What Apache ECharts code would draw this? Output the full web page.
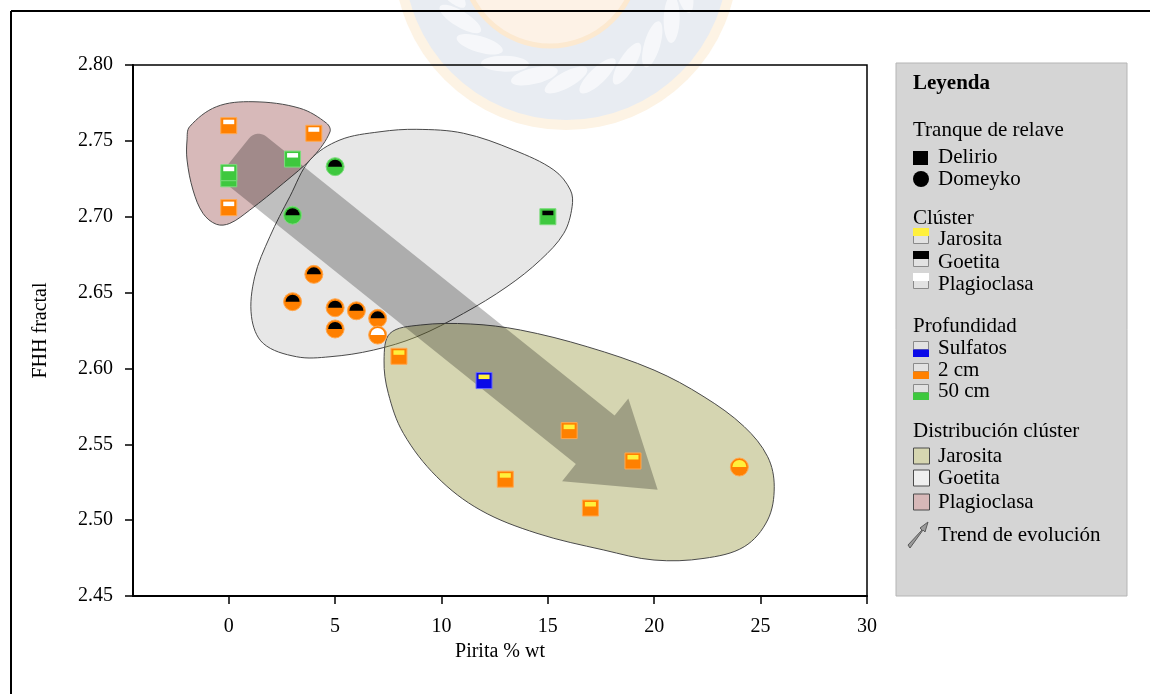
<!DOCTYPE html>
<html lang="es">
<head>
<meta charset="UTF-8">
<title>FHH fractal vs Pirita</title>
<style>html,body{margin:0;padding:0;background:#fff;}</style>
</head>
<body>
<div id="main" style="width:1150px;height:694px;"></div>
<script src="https://cdn.jsdelivr.net/npm/echarts@6/dist/echarts.min.js"></script>
<script>
// Tranque Delirio (cuadrados)
var delirioX = [0, 4, 0, 0, 3, 0, 15, 8, 12, 16, 19, 13, 17];
var delirioY = [2.760, 2.755, 2.725, 2.729, 2.738, 2.706, 2.700, 2.608, 2.592, 2.559, 2.539, 2.527, 2.508];
var delirioCluster = ['Plagioclasa', 'Plagioclasa', 'Plagioclasa', 'Plagioclasa', 'Plagioclasa', 'Plagioclasa',
    'Goetita', 'Jarosita', 'Jarosita', 'Jarosita', 'Jarosita', 'Jarosita', 'Jarosita'];
var delirioDepth = ['2 cm', '2 cm', '50 cm', '50 cm', '50 cm', '2 cm', '50 cm', '2 cm', 'Sulfatos', '2 cm', '2 cm', '2 cm', '2 cm'];

// Tranque Domeyko (circulos)
var domeykoX = [5, 3, 4, 3, 5, 6, 7, 5, 7, 24];
var domeykoY = [2.733, 2.701, 2.662, 2.644, 2.640, 2.638, 2.633, 2.626, 2.622, 2.535];
var domeykoCluster = ['Goetita', 'Goetita', 'Goetita', 'Goetita', 'Goetita', 'Goetita', 'Goetita', 'Goetita', 'Plagioclasa', 'Jarosita'];
var domeykoDepth = ['50 cm', '50 cm', '2 cm', '2 cm', '2 cm', '2 cm', '2 cm', '2 cm', '2 cm', '2 cm'];

// contornos de distribucion de cluster (en unidades de los ejes)
var plagioclasaX = [-1.84, -0.58, 1.14, 3.34, 4.60, 4.76, 3.97, 2.56, 0.99, 0.05, -0.58, -1.21, -1.68, -1.96, -1.96];
var plagioclasaY = [2.7593, 2.7725, 2.7758, 2.7715, 2.7616, 2.7560, 2.7396, 2.7220, 2.7044, 2.6956, 2.6950, 2.7022, 2.7176, 2.7374, 2.7506];
var goetitaX = [3.82, 5.23, 7.11, 8.84, 11.04, 13.39, 15.28, 16.06, 16.14, 15.75, 14.65, 13.08, 11.04, 8.84, 6.80, 4.76, 3.19, 1.62, 1.07, 1.22, 1.93, 2.87];
var goetitaY = [2.7374, 2.7506, 2.7560, 2.7576, 2.7550, 2.7440, 2.7308, 2.7176, 2.7066, 2.6891, 2.6715, 2.6539, 2.6363, 2.6209, 2.6121, 2.6077, 2.6077, 2.6165, 2.6341, 2.6604, 2.6868, 2.7132];
var jarositaX = [7.58, 9.00, 11.35, 13.71, 16.85, 19.99, 22.34, 24.23, 25.33, 25.64, 25.33, 24.23, 22.34, 19.99, 17.63, 14.49, 11.82, 9.78, 8.21, 7.50, 7.30];
var jarositaY = [2.6231, 2.6286, 2.6293, 2.6253, 2.6143, 2.5989, 2.5813, 2.5616, 2.5418, 2.5220, 2.5001, 2.4825, 2.4748, 2.4737, 2.4803, 2.4913, 2.5067, 2.5286, 2.5572, 2.5836, 2.6055];

// flecha de tendencia (cola -> punta)
var arrowX = [0.40, 20.16];
var arrowY = [2.742, 2.520];

var xTicks = [0, 5, 10, 15, 20, 25, 30];
var yTicks = [2.45, 2.50, 2.55, 2.60, 2.65, 2.70, 2.75, 2.80];

var SERIF = 'Liberation Serif';

var depthColor = {'Sulfatos': '#0a0ae8', '2 cm': '#ff8000', '50 cm': '#3ec83e'};
var depthEdge = {'Sulfatos': '#6b6bff', '2 cm': '#ffa850', '50 cm': '#7ddc7d'};
var clusterColor = {'Jarosita': '#fff03c', 'Goetita': '#000000', 'Plagioclasa': '#ffffff'};

var myChart = echarts.init(document.getElementById('main'));

function blobSeries(name, xs, ys, fill, z) {
    return {
        type: 'custom', name: name, z: z, silent: true, clip: false,
        data: [[xs[0], ys[0]]],
        renderItem: function (params, api) {
            var pts = xs.map(function (x, i) { return api.coord([x, ys[i]]); });
            return {
                type: 'polygon',
                shape: {points: pts, smooth: 0.35},
                style: {fill: fill, stroke: '#4a4a4a', lineWidth: 1}
            };
        }
    };
}

function arrowPoints(t, p) {
    var dx = p[0] - t[0], dy = p[1] - t[1];
    var len = Math.sqrt(dx * dx + dy * dy);
    var d = [dx / len, dy / len], n = [-d[1], d[0]];
    var hw = 31, hh = 53, hl = 80, r = 12;
    function pt(a, b) { return [t[0] + d[0] * a + n[0] * b, t[1] + d[1] * a + n[1] * b]; }
    var pts = [], k, ang;
    for (k = 0; k <= 8; k++) {
        ang = Math.PI / 2 * k / 8;
        pts.push(pt(r - r * Math.cos(ang), hw - r + r * Math.sin(ang)));
    }
    pts.push(pt(len - hl, hw), pt(len - hl, hh), pt(len, 0), pt(len - hl, -hh), pt(len - hl, -hw));
    for (k = 0; k <= 8; k++) {
        ang = Math.PI / 2 * k / 8;
        pts.push(pt(r - r * Math.sin(ang), -hw + r - r * Math.cos(ang)));
    }
    return pts;
}

// leyenda
var legendItems = [];
function txt(x, y, s, bold) {
    legendItems.push({
        type: 'text', x: x, y: y, z: 20,
        style: {text: s, fill: '#000', fontFamily: SERIF, fontSize: 21, fontWeight: bold ? 'bold' : 'normal', verticalAlign: 'middle'}
    });
}
function box(x, y, w, h, fill, stroke) {
    legendItems.push({
        type: 'rect', z: 20, shape: {x: x, y: y, width: w, height: h},
        style: {fill: fill, stroke: stroke || null, lineWidth: stroke ? 1 : 0}
    });
}
legendItems.push({type: 'rect', z: 19, shape: {x: 896, y: 63, width: 231, height: 533},
    style: {fill: '#d5d5d5', stroke: '#b5b5b5', lineWidth: 1}});
txt(913, 84, 'Leyenda', true);
txt(913, 130, 'Tranque de relave');
box(913, 151, 15, 14, '#000');
txt(938, 157, 'Delirio');
legendItems.push({type: 'circle', z: 20, shape: {cx: 921, cy: 179, r: 8}, style: {fill: '#000'}});
txt(938, 179, 'Domeyko');
txt(913, 218, 'Clúster');
[['Jarosita', 243], ['Goetita', 266], ['Plagioclasa', 288]].forEach(function (c) {
    box(913.5, c[1] - 7.5, 15, 8, '#e2e2e2', '#8a8a8a');
    box(913, c[1] - 15, 16, 8, clusterColor[c[0]]);
    txt(938, c[1] - 4, c[0]);
});
txt(913, 326, 'Profundidad');
[['Sulfatos', 350], ['2 cm', 372], ['50 cm', 393]].forEach(function (c) {
    box(913.5, c[1] - 8.5, 15, 8, '#e2e2e2', '#8a8a8a');
    box(913, c[1] - 0.5, 16, 7.5, depthColor[c[0]]);
    txt(938, c[1] - 2, c[0]);
});
txt(913, 431, 'Distribución clúster');
[['Jarosita', 456, '#d6d6b1'], ['Goetita', 478, '#efefef'], ['Plagioclasa', 502, '#d7b8b8']].forEach(function (c) {
    box(913.5, c[1] - 8, 16, 16, c[2], '#4a4a4a');
    txt(938, c[1], c[0]);
});
legendItems.push({
    type: 'polygon', z: 20,
    shape: {points: [[908, 545], [922, 530], [920, 528], [928, 522], [925, 532], [923, 530], [910, 548]]},
    style: {fill: '#9a9a9a', stroke: '#5a5a5a', lineWidth: 1}
});
txt(938, 535, 'Trend de evolución');

// marca de agua (logo tenue)
var watermark = [
    {type: 'circle', z: -10, shape: {cx: 566, cy: -42, r: 172}, style: {fill: '#fdf3e4'}},
    {type: 'circle', z: -10, shape: {cx: 566, cy: -42, r: 162}, style: {fill: '#e8ecf2'}},
    {type: 'circle', z: -10, shape: {cx: 550, cy: -42, r: 88}, style: {fill: '#fdf2e6', stroke: '#fce9d0', lineWidth: 5}}
];
for (var a = 15; a <= 165; a += 15) {
    var rad = a * Math.PI / 180;
    watermark.push({
        type: 'ellipse', z: -10,
        x: 566 + 122 * Math.cos(rad), y: -42 + 122 * Math.sin(rad), rotation: -(rad + Math.PI / 2) + 0.5,
        shape: {cx: 0, cy: 0, rx: 24, ry: 8}, style: {fill: 'rgba(255,255,255,0.6)'}
    });
}

myChart.setOption({
    animation: false,
    backgroundColor: '#fff',
    grid: {left: 133, right: 283, top: 65, bottom: 98, show: true, borderColor: '#000', borderWidth: 1.5, backgroundColor: 'transparent'},
    xAxis: {
        type: 'value', min: -4.5, max: 30,
        name: 'Pirita % wt', nameLocation: 'middle', nameGap: 46,
        nameTextStyle: {fontFamily: SERIF, fontSize: 20, color: '#000'},
        axisLine: {onZero: false, lineStyle: {color: '#000', width: 2}},
        axisTick: {inside: false, length: 8, customValues: xTicks, lineStyle: {color: '#000', width: 1.5}},
        axisLabel: {customValues: xTicks, margin: 21, fontFamily: SERIF, fontSize: 20, color: '#000'},
        splitLine: {show: false}
    },
    yAxis: {
        type: 'value', min: yTicks[0], max: yTicks[yTicks.length - 1], interval: 0.05,
        name: 'FHH fractal', nameLocation: 'middle', nameGap: 82, nameRotate: 90,
        nameTextStyle: {fontFamily: SERIF, fontSize: 20, color: '#000'},
        axisLine: {onZero: false, lineStyle: {color: '#000', width: 2}},
        axisTick: {inside: false, length: 8, lineStyle: {color: '#000', width: 1.5}},
        axisLabel: {margin: 20, fontFamily: SERIF, fontSize: 20, color: '#000',
            formatter: function (v) { return v.toFixed(2); }},
        splitLine: {show: false}
    },
    graphic: [
        {type: 'line', z: 30, shape: {x1: 11, y1: 11, x2: 1150, y2: 11}, style: {stroke: '#000', lineWidth: 2}},
        {type: 'line', z: 30, shape: {x1: 11, y1: 11, x2: 11, y2: 694}, style: {stroke: '#000', lineWidth: 2}}
    ].concat(watermark, legendItems),
    series: [
        blobSeries('Goetita', goetitaX, goetitaY, 'rgba(175,175,175,0.3)', 1),
        blobSeries('Plagioclasa', plagioclasaX, plagioclasaY, 'rgba(155,80,80,0.4)', 2),
        blobSeries('Jarosita', jarositaX, jarositaY, 'rgba(150,150,60,0.4)', 3),
        {
            type: 'custom', name: 'Trend', z: 4, silent: true, clip: false,
            data: [[arrowX[0], arrowY[0]]],
            renderItem: function (params, api) {
                var t = api.coord([arrowX[0], arrowY[0]]);
                var p = api.coord([arrowX[1], arrowY[1]]);
                return {type: 'polygon', shape: {points: arrowPoints(t, p)}, style: {fill: 'rgba(0,0,0,0.25)'}};
            }
        },
        {
            type: 'custom', name: 'Delirio', z: 5, clip: false,
            data: delirioX.map(function (x, i) { return [x, delirioY[i]]; }),
            renderItem: function (params, api) {
                var c = api.coord([api.value(0), api.value(1)]);
                var i = params.dataIndex, s = 16;
                return {
                    type: 'group', children: [
                        {type: 'rect', shape: {x: c[0] - s / 2, y: c[1] - s / 2, width: s, height: s},
                            style: {fill: depthColor[delirioDepth[i]], stroke: depthEdge[delirioDepth[i]], lineWidth: 1}},
                        {type: 'rect', shape: {x: c[0] - s / 2 + 2.5, y: c[1] - s / 2 + 2, width: s - 5, height: 4.5},
                            style: {fill: clusterColor[delirioCluster[i]]}}
                    ]
                };
            }
        },
        {
            type: 'custom', name: 'Domeyko', z: 6, clip: false,
            data: domeykoX.map(function (x, i) { return [x, domeykoY[i]]; }),
            renderItem: function (params, api) {
                var c = api.coord([api.value(0), api.value(1)]);
                var i = params.dataIndex;
                return {
                    type: 'group', children: [
                        {type: 'circle', shape: {cx: c[0], cy: c[1], r: 9},
                            style: {fill: depthColor[domeykoDepth[i]], stroke: depthEdge[domeykoDepth[i]], lineWidth: 1}},
                        {type: 'sector', shape: {cx: c[0], cy: c[1], r0: 0, r: 7, startAngle: Math.PI, endAngle: 2 * Math.PI, clockwise: true},
                            style: {fill: clusterColor[domeykoCluster[i]]}}
                    ]
                };
            }
        }
    ]
});
</script>
</body>
</html>
